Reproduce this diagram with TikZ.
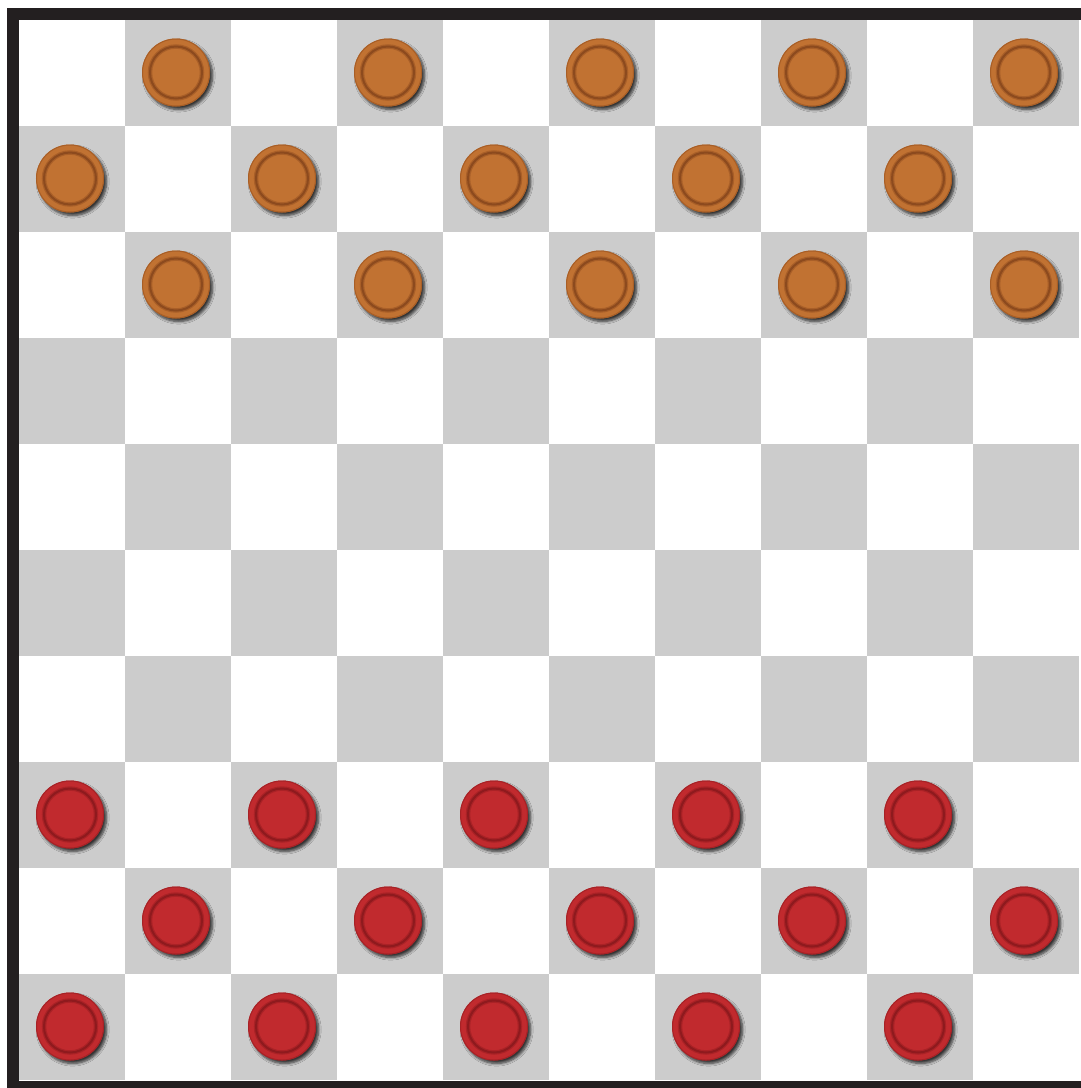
\documentclass[tikz,border=0pt]{standalone}
\usetikzlibrary{shadows.blur}
\definecolor{sqgray}{HTML}{CCCCCC}
\definecolor{frame}{HTML}{231F20}
\definecolor{orangep}{HTML}{C17232}
\definecolor{orangering}{HTML}{8C4A1E}
\definecolor{orangerim}{HTML}{A85E26}
\definecolor{redp}{HTML}{C12A2E}
\definecolor{redring}{HTML}{8E1A1E}
\definecolor{redrim}{HTML}{A62226}
\tikzset{
  darksq/.style={fill=sqgray},
  boardframe/.style={draw=frame, line width=12.5pt},
  piece/.style={blur shadow={shadow xshift=2.6pt, shadow yshift=-3pt, shadow blur radius=2.6pt, shadow blur steps=6, shadow opacity=75}},
  rim/.style={line width=1pt},
  ringsoft/.style={line width=4.5pt, draw opacity=0.45},
  ring/.style={line width=2pt}
}
\begin{document}
\begin{tikzpicture}[x=1pt,y=-1pt]
\useasboundingbox (0,0) rectangle (1081,1088);
\begin{scope}
\clip (0,0) rectangle (1081,1088);
\fill[white] (0,0) rectangle (1081,1088);
\foreach \r in {0,...,9} {
  \foreach \c in {0,...,9} {
    \pgfmathtruncatemacro\s{mod(\r+\c,2)}
    \ifnum\s=1
      \fill[darksq] ({19+106*\c},{20+106*\r}) rectangle ++(106,106);
    \fi
  }
}
\foreach \r in {0,1,2,7,8,9} {
  \foreach \c in {0,...,9} {
    \pgfmathtruncatemacro\s{mod(\r+\c,2)}
    \ifnum\s=1
      \ifnum\r<5
        \def\pc{orangep}\def\pr{orangering}\def\pm{orangerim}
      \else
        \def\pc{redp}\def\pr{redring}\def\pm{redrim}
      \fi
      \coordinate (p\r\c) at ({19+106*\c+53-2},{20+106*\r+53-0.5});
      \path[piece, fill=\pc] (p\r\c) circle (34);
      \draw[rim, draw=\pm] (p\r\c) circle (33.5);
      \draw[ringsoft, draw=\pr] (p\r\c) circle (26);
      \draw[ring, draw=\pr] (p\r\c) circle (26);
    \fi
  }
}
\draw[boardframe] (12.75,13.75) rectangle (1092,1086.75);
\end{scope}
\end{tikzpicture}
\end{document}
